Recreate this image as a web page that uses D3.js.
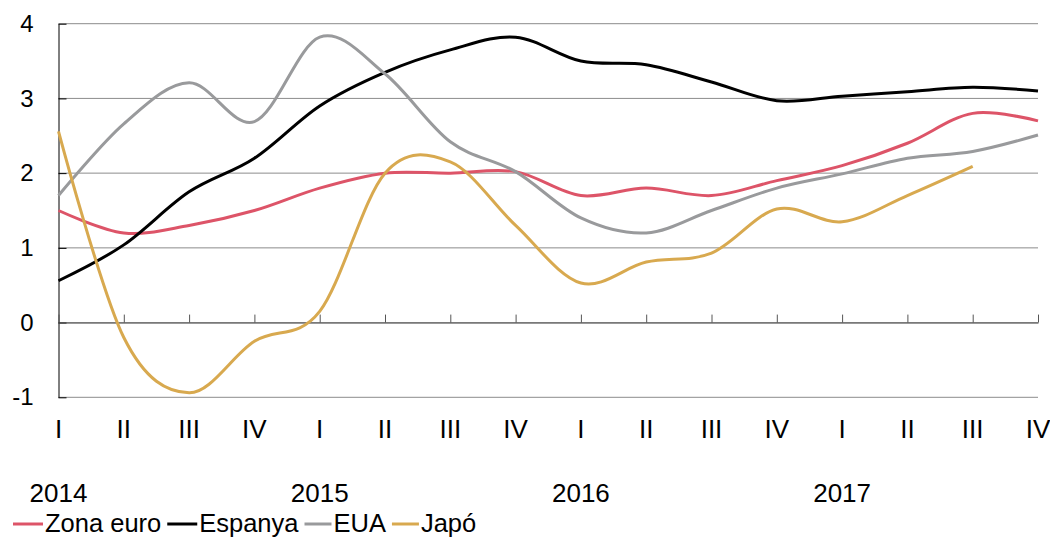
<!DOCTYPE html>
<html>
<head>
<meta charset="utf-8">
<script src="https://cdn.jsdelivr.net/npm/d3@7"></script>
<style>
  body { margin: 0; background: #fff; }
  svg { display: block; font-family: "Liberation Sans", Arial, sans-serif; }
</style>
</head>
<body>
<div id="chart"></div>
<script>
// quarters 2014 Q1 .. 2017 Q4
const quarters = ['I','II','III','IV','I','II','III','IV','I','II','III','IV','I','II','III','IV'];
const years = ['2014','2015','2016','2017'];
const yTicks = [-1, 0, 1, 2, 3, 4];

const zonaEuro = [1.5, 1.2, 1.3, 1.5, 1.8, 2.0, 2.0, 2.02, 1.7, 1.8, 1.7, 1.9, 2.1, 2.4, 2.8, 2.7];
const espanya  = [0.56, 1.04, 1.75, 2.2, 2.9, 3.35, 3.65, 3.82, 3.5, 3.45, 3.22, 2.97, 3.03, 3.09, 3.15, 3.1];
const eua      = [1.7, 2.66, 3.21, 2.69, 3.82, 3.33, 2.42, 2.02, 1.4, 1.2, 1.5, 1.8, 1.99, 2.2, 2.29, 2.51];
const japo     = [2.56, -0.2, -0.94, -0.25, 0.15, 2.0, 2.15, 1.3, 0.53, 0.81, 0.93, 1.52, 1.35, 1.7, 2.09, null];

const series = [
  {name: 'Zona euro', values: zonaEuro, color: '#dd5468'},
  {name: 'Espanya', values: espanya, color: '#000000'},
  {name: 'EUA', values: eua, color: '#999a9c'},
  {name: 'Japó', values: japo, color: '#d8a94f'}
];

const width = 1050, height = 537;
const margin = {top: 23.7, right: 12, bottom: 139.7, left: 58.5};

const svg = d3.select('#chart').append('svg')
  .attr('width', width)
  .attr('height', height);

const x = d3.scalePoint()
  .domain(d3.range(quarters.length))
  .range([margin.left, width - margin.right]);

const y = d3.scaleLinear()
  .domain([-1, 4])
  .range([height - margin.bottom, margin.top]);

// gridlines
svg.append('g')
  .selectAll('line')
  .data(yTicks)
  .join('line')
  .attr('x1', margin.left).attr('x2', width - margin.right)
  .attr('y1', d => y(d)).attr('y2', d => y(d))
  .attr('stroke', '#8c8c8c')
  .attr('stroke-width', 1);

// y axis
svg.append('g')
  .attr('transform', `translate(${margin.left},0)`)
  .call(d3.axisLeft(y).tickValues(yTicks).tickSize(-8).tickSizeOuter(0).tickPadding(25)
    .tickFormat(d => String(d)))
  .call(g => g.selectAll('line, path').attr('stroke', '#000'))
  .call(g => g.selectAll('text').attr('font-size', 24).attr('fill', '#000')
    .attr('font-family', '"Liberation Sans", Arial, sans-serif'));

// zero axis with category ticks
svg.append('g')
  .attr('transform', `translate(0,${y(0)})`)
  .call(d3.axisTop(x).tickSize(8).tickSizeOuter(0).tickFormat(''))
  .call(g => g.selectAll('line, path').attr('stroke', '#555'));

// lines
const line = d3.line()
  .defined(d => d != null)
  .x((d, i) => x(i))
  .y(d => y(d))
  .curve(d3.curveCardinal.tension(0));

svg.append('g')
  .selectAll('path')
  .data(series)
  .join('path')
  .attr('fill', 'none')
  .attr('stroke', d => d.color)
  .attr('stroke-width', 3)
  .attr('stroke-linejoin', 'round')
  .attr('d', d => line(d.values));

// quarter labels
svg.append('g')
  .attr('font-size', 26)
  .attr('text-anchor', 'middle')
  .selectAll('text')
  .data(quarters)
  .join('text')
  .attr('x', (d, i) => x(i))
  .attr('y', 438)
  .text(d => d);

// year labels
svg.append('g')
  .attr('font-size', 26)
  .attr('text-anchor', 'middle')
  .selectAll('text')
  .data(years)
  .join('text')
  .attr('x', (d, i) => x(i * 4))
  .attr('y', 502)
  .text(d => d);

// legend
const legend = svg.append('g').attr('font-size', 25.5);
const swatch = [30, 30, 27, 27];
let lx = 13;
series.forEach((s, i) => {
  legend.append('line')
    .attr('x1', lx).attr('x2', lx + swatch[i])
    .attr('y1', 524).attr('y2', 524)
    .attr('stroke', s.color).attr('stroke-width', 3);
  const t = legend.append('text')
    .attr('x', lx + swatch[i] + 2)
    .attr('y', 532)
    .text(s.name);
  lx += swatch[i] + 2 + t.node().getComputedTextLength() + 6;
});
</script>
</body>
</html>
